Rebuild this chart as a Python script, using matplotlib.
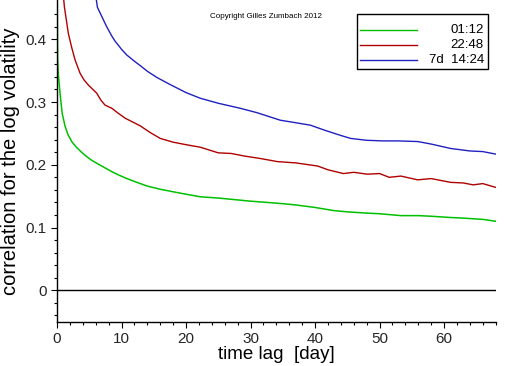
import matplotlib
matplotlib.use("Agg")
import matplotlib.pyplot as plt
from matplotlib.patches import Rectangle

plt.rcParams['font.family'] = ['Liberation Sans', 'DejaVu Sans']

# lag in days, correlation
green_x = [0.0, 0.05, 0.1, 0.2, 0.47, 0.8, 1.24, 1.7, 2.28, 3.0, 3.8, 4.6, 5.4, 6.4, 7.45, 8.5,
           9.5, 10.6, 11.85, 14, 16, 19, 22.2, 25, 27, 30, 32.6, 35, 37, 40, 42.9, 45, 48, 50,
           53.3, 56, 58, 61, 63, 66, 68]
green_y = [0.52, 0.45, 0.37, 0.345, 0.314, 0.282, 0.262, 0.248, 0.237, 0.228, 0.220, 0.213,
           0.207, 0.201, 0.195, 0.189, 0.184, 0.179, 0.174, 0.166, 0.161, 0.155, 0.149, 0.147,
           0.145, 0.142, 0.140, 0.138, 0.136, 0.132, 0.127, 0.125, 0.123, 0.122, 0.119, 0.119,
           0.118, 0.116, 0.115, 0.113, 0.110]

red_x = [0.9, 1.14, 1.76, 2.3, 2.8, 3.57, 4.2, 4.86, 6.16, 6.8, 7.45, 8.5, 9.5, 10.6, 12.9,
         14.5, 16, 18, 20, 22.2, 25, 27, 29, 31.5, 34.2, 37, 40.4, 42, 44.4, 46, 48.1, 50, 51.5,
         53.3, 55.9, 58, 61, 63, 64.5, 66, 68]
red_y = [0.48, 0.452, 0.409, 0.386, 0.367, 0.346, 0.335, 0.327, 0.314, 0.303, 0.295, 0.290,
         0.282, 0.274, 0.262, 0.251, 0.242, 0.236, 0.232, 0.228, 0.219, 0.218, 0.214, 0.210,
         0.205, 0.203, 0.198, 0.192, 0.186, 0.188, 0.185, 0.186, 0.180, 0.182, 0.176, 0.178,
         0.172, 0.171, 0.168, 0.170, 0.164]

blue_x = [6.0, 6.26, 7.0, 7.7, 8.5, 9.0, 10.0, 10.8, 12.0, 12.9, 14.0, 15.5, 17.5, 20, 22.2,
          25, 28.4, 31, 34.6, 37, 39.3, 41.5, 43.9, 45.5, 48, 50.6, 53, 55.9, 58, 61, 64, 66, 68]
blue_y = [0.47, 0.451, 0.435, 0.420, 0.405, 0.397, 0.384, 0.375, 0.365, 0.358, 0.349, 0.339,
          0.328, 0.315, 0.306, 0.298, 0.290, 0.283, 0.271, 0.267, 0.263, 0.255, 0.247, 0.242,
          0.239, 0.238, 0.238, 0.237, 0.233, 0.226, 0.222, 0.221, 0.217]

labels = ['01:12', '22:48', '7d  14:24']
colors = ['#00c000', '#b00000', '#2020c0']

fig = plt.figure(figsize=(5.12, 3.66), dpi=100)
ax = fig.add_axes([57 / 512, 44.3 / 366, 438.7 / 512, 321.7 / 366])

ax.plot(green_x, green_y, color=colors[0], lw=1.1)
ax.plot(red_x, red_y, color=colors[1], lw=1.0)
ax.plot(blue_x, blue_y, color=colors[2], lw=1.0)
ax.axhline(0, color='black', lw=1.0)

ax.set_xlim(0, 68)
ax.set_ylim(-0.05, 0.4625)
ax.set_xticks([0, 10, 20, 30, 40, 50, 60])
ax.set_xticks(range(0, 69, 2), minor=True)
ax.set_yticks([0, 0.1, 0.2, 0.3, 0.4])
ax.set_yticklabels(['0', '0.1', '0.2', '0.3', '0.4'])
ax.set_yticks([v / 100 for v in range(-4, 46, 2)], minor=True)
ax.tick_params(which='major', length=4.5, width=0.8, labelsize=11, pad=3,
               labelcolor='#262626')
ax.tick_params(which='minor', length=2.2, width=0.8)

for s in ['top', 'right']:
    ax.spines[s].set_visible(False)
for s in ['left', 'bottom']:
    ax.spines[s].set_linewidth(1.0)

ax.set_xlabel('time lag  [day]', fontsize=13.5, labelpad=0)
ax.set_ylabel('correlation for the log volatility', fontsize=14.5, labelpad=4)

ax.text(0.476, 0.95, 'Copyright Gilles Zumbach 2012', transform=ax.transAxes,
        fontsize=5.8, ha='center', va='center')

# legend box drawn by hand so the labels can sit right-aligned
ax.add_patch(Rectangle((0.684, 0.786), 0.298, 0.17, transform=ax.transAxes,
                       facecolor='white', edgecolor='black', lw=1.0, zorder=5))
rows = [0.907, 0.861, 0.814]
for lab, col, yy in zip(labels, colors, rows):
    ax.plot([0.691, 0.821], [yy, yy], color=col, lw=1.0, transform=ax.transAxes, zorder=6)
    ax.text(0.973, yy, lab, transform=ax.transAxes, fontsize=9.5, ha='right', va='center',
            zorder=6)

fig.savefig('out.png', dpi=100)
